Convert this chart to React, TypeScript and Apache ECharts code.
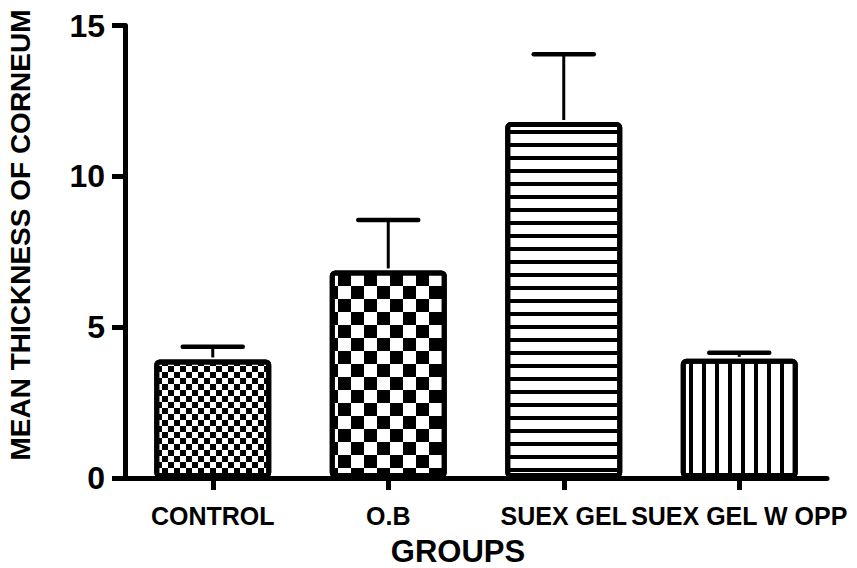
import React, { useEffect, useRef } from "react";
import * as echarts from "echarts";

const categories = ["CONTROL", "O.B", "SUEX GEL", "SUEX GEL W OPP"];
const means = [3.93, 6.88, 11.8, 3.95];
const errorTops = [4.35, 8.55, 14.05, 4.15];
const yMin = 0;
const yMax = 15;
const yInterval = 5;
const yTitle = "MEAN THICKNESS OF CORNEUM";
const xTitle = "GROUPS";

const FONT = "'Liberation Sans', Arial, Helvetica, sans-serif";

const decalStyles = [
  { dashArrayX: [[6, 6], [0, 6, 6, 0]], dashArrayY: [6, 0] },
  { dashArrayX: [[13, 13], [0, 13, 13, 0]], dashArrayY: [13, 0] },
  { dashArrayX: [13, 0], dashArrayY: [4, 9] },
  { dashArrayX: [4, 9], dashArrayY: [13, 0] },
];

export default function App() {
  const ref = useRef<HTMLDivElement>(null);
  useEffect(() => {
    if (!ref.current) return;
    const chart = echarts.init(ref.current, null, { renderer: "svg" });
    const option: any = {
      animation: false,
      backgroundColor: "#fff",
      grid: { left: 125, right: 30, top: 25.5, bottom: 90, containLabel: false },
      xAxis: {
        type: "category",
        data: categories,
        axisLine: { show: true, lineStyle: { color: "#000", width: 5 } },
        axisTick: { show: true, alignWithLabel: true, length: 12, lineStyle: { color: "#000", width: 5 } },
        axisLabel: {
          color: "#000",
          fontFamily: FONT,
          fontWeight: "bold",
          fontSize: 25,
          margin: 25,
          interval: 0,
        },
        splitLine: { show: false },
      },
      yAxis: {
        type: "value",
        min: yMin,
        max: yMax,
        interval: yInterval,
        axisLine: { show: true, lineStyle: { color: "#000", width: 5 } },
        axisTick: { show: true, length: 13, lineStyle: { color: "#000", width: 5 } },
        axisLabel: { color: "#000", fontFamily: FONT, fontWeight: "bold", fontSize: 32, margin: 20 },
        splitLine: { show: false },
      },
      graphic: [
        {
          type: "text",
          x: 20,
          y: 235,
          rotation: Math.PI / 2,
          style: {
            text: yTitle,
            fill: "#000",
            font: `bold 28px ${FONT}`,
            align: "center",
            verticalAlign: "middle",
          },
        },
        {
          type: "text",
          x: 458,
          y: 551,
          style: {
            text: xTitle,
            fill: "#000",
            font: `bold 31px ${FONT}`,
            align: "center",
            verticalAlign: "middle",
          },
        },
      ],
      series: [
        {
          type: "bar",
          barWidth: 117,
          z: 2,
          itemStyle: { color: "#fff", borderColor: "#000", borderWidth: 5, borderRadius: 3 },
          data: means.map((v, i) => ({
            value: v,
            itemStyle: {
              decal: {
                symbol: "rect",
                symbolSize: 1,
                symbolKeepAspect: false,
                color: "#000",
                backgroundColor: null,
                rotation: 0,
                ...decalStyles[i],
              },
            },
          })),
        },
        {
          type: "custom",
          z: 3,
          encode: { x: 0, y: 2 },
          data: errorTops.map((e, i) => [i, means[i], e]),
          renderItem: (params: any, api: any) => {
            const i = api.value(0);
            const lo = api.coord([i, api.value(1)]);
            const hi = api.coord([i, api.value(2)]);
            const half = 30;
            return {
              type: "group",
              children: [
                {
                  type: "line",
                  shape: { x1: lo[0], y1: lo[1] - 2, x2: hi[0], y2: hi[1] },
                  style: { stroke: "#000", lineWidth: 3 },
                },
                {
                  type: "line",
                  shape: { x1: hi[0] - half, y1: hi[1], x2: hi[0] + half, y2: hi[1] },
                  style: { stroke: "#000", lineWidth: 4.5, lineCap: "round" },
                },
              ],
            };
          },
        },
      ],
    };
    chart.setOption(option);
    return () => chart.dispose();
  }, []);
  return (
    <div
      ref={ref}
      style={{ position: "absolute", left: 0, top: 0, width: 857, height: 568 }}
    />
  );
}
